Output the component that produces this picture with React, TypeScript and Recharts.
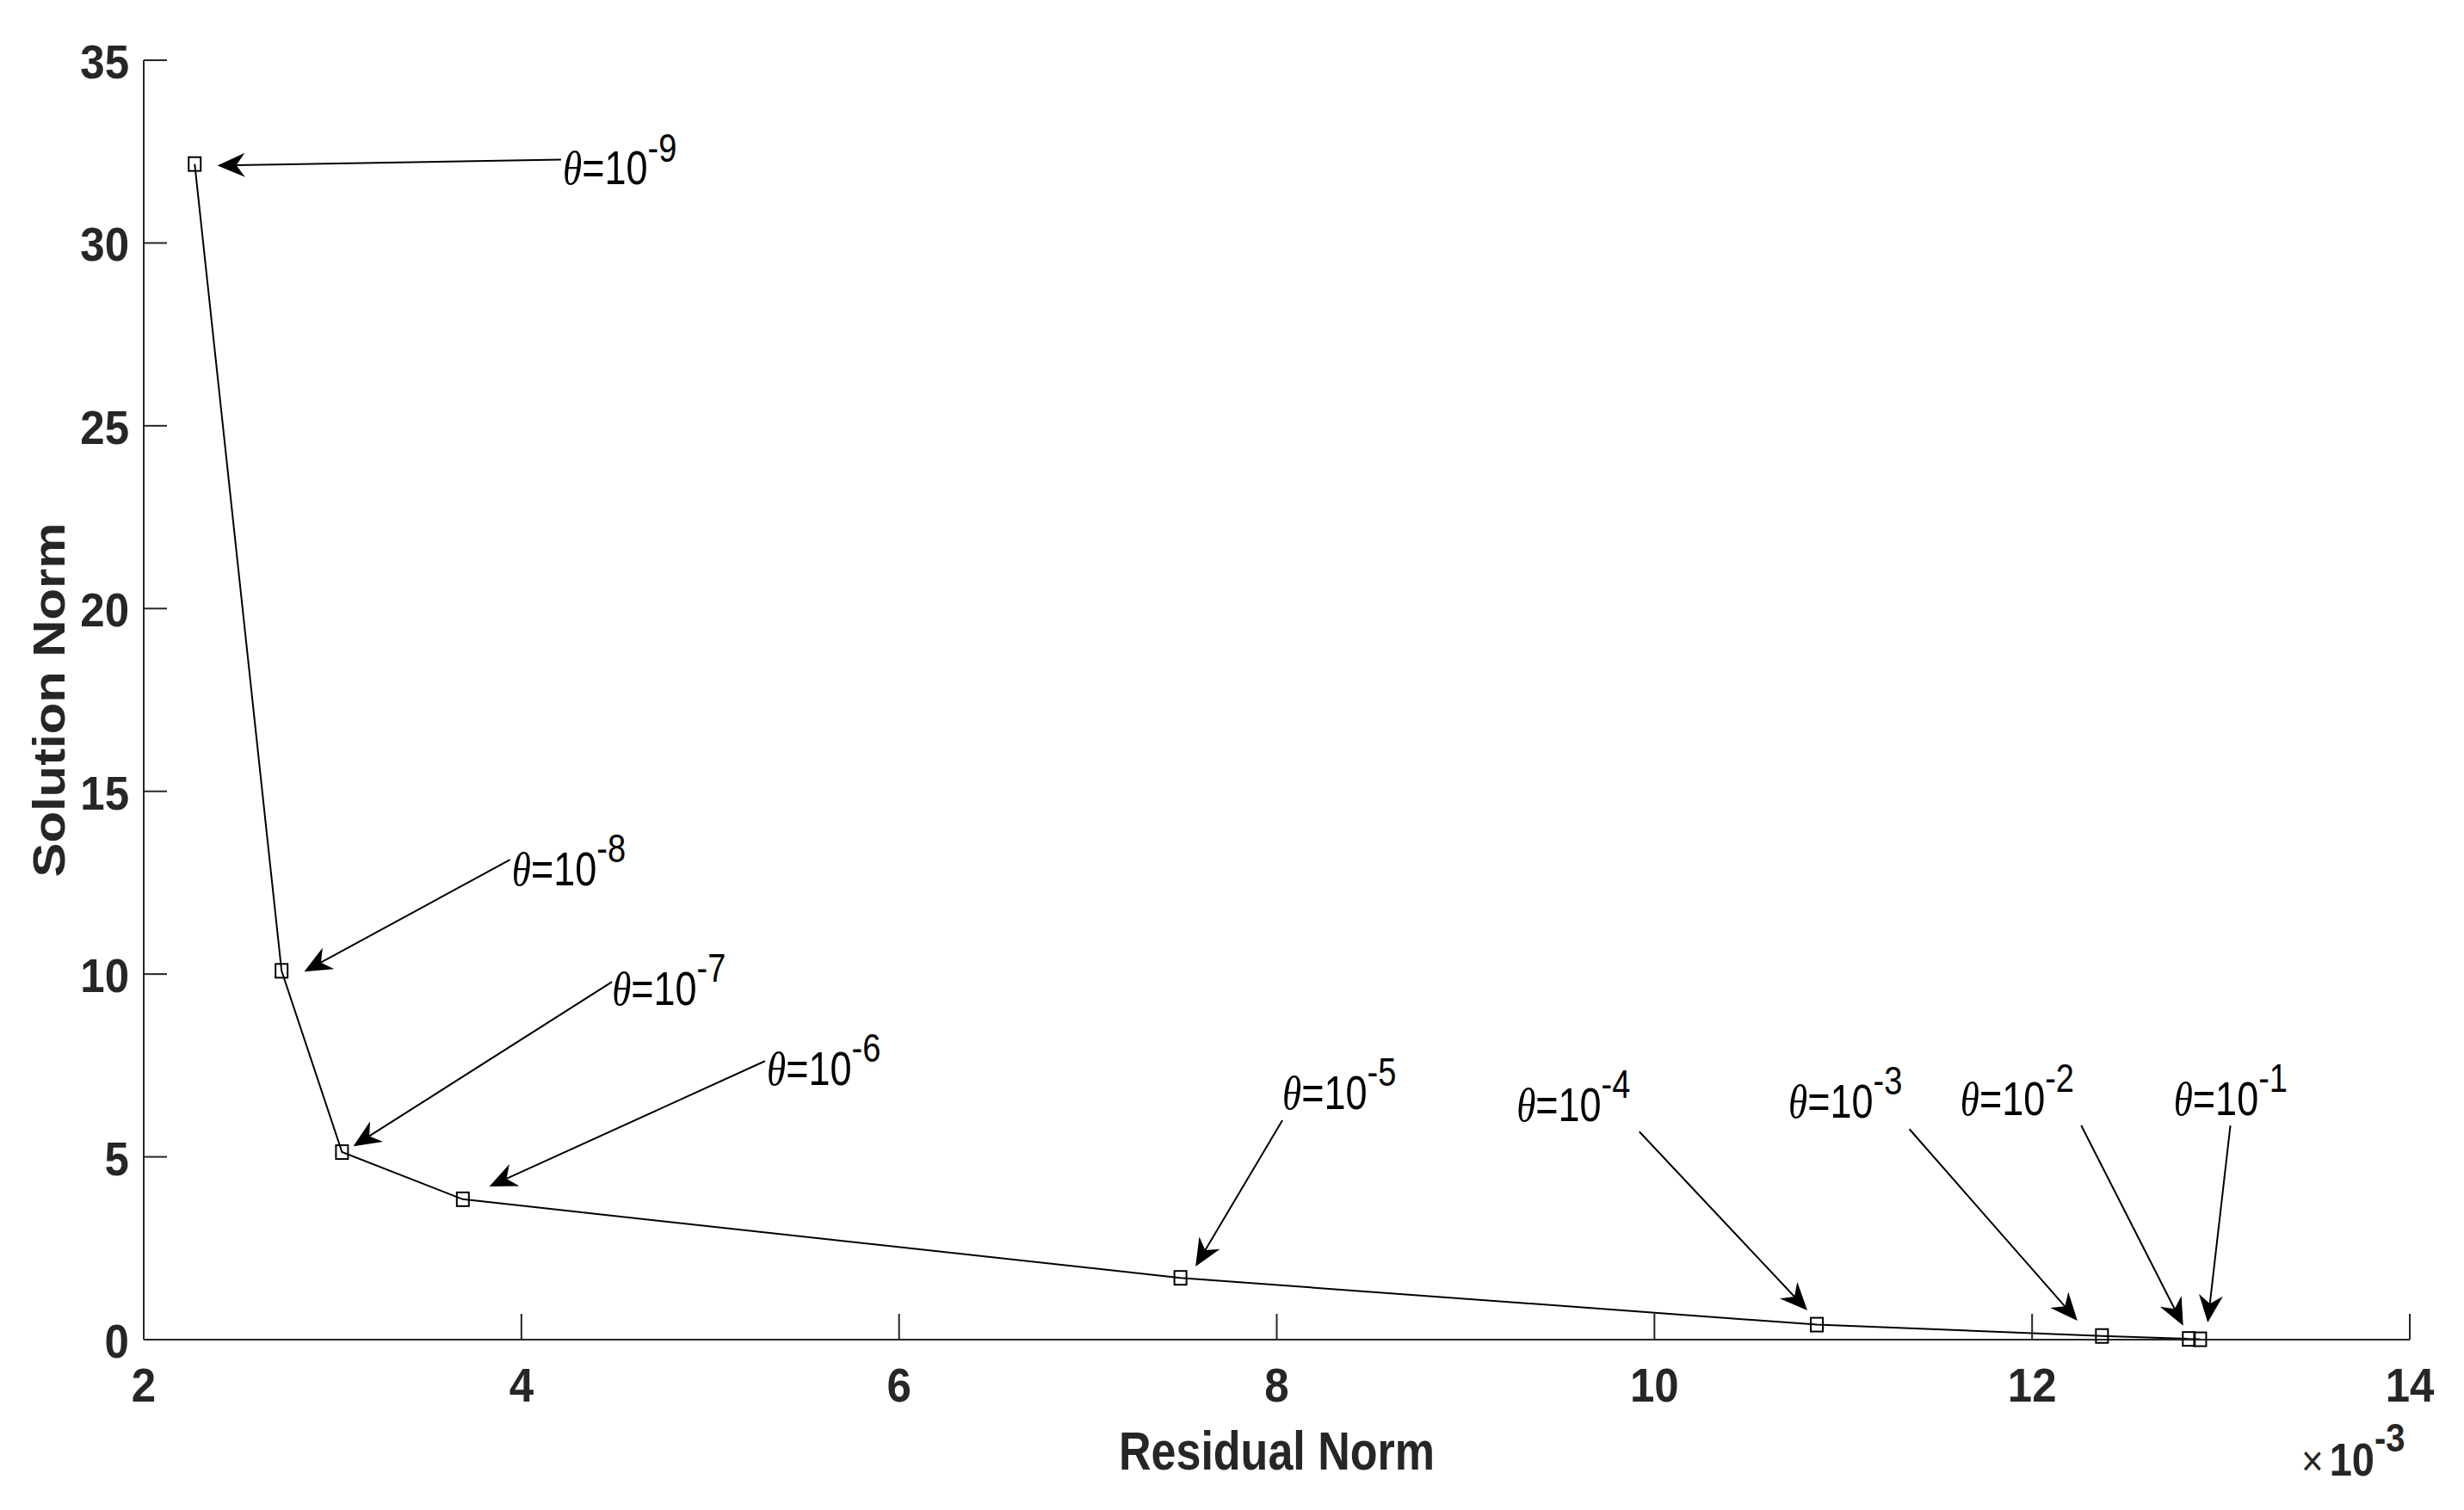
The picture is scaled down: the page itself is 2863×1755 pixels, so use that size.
import React from 'react';
import { LineChart, Line, XAxis, YAxis, ReferenceLine, ReferenceDot, Label } from 'recharts';

// L-curve: residual norm (x 1e-3) vs solution norm for each theta
const residualNorm = [2.27, 2.73, 3.05, 3.69, 7.49, 10.86, 12.37, 12.83, 12.89];
const solutionNorm = [32.16, 10.09, 5.13, 3.84, 1.69, 0.41, 0.1, 0.02, 0.01];
const thetaExponent = [-9, -8, -7, -6, -5, -4, -3, -2, -1];

const xTicks = [2, 4, 6, 8, 10, 12, 14];
const yTicks = [0, 5, 10, 15, 20, 25, 30, 35];

// annotation anchors, in data units
const labelX = [4.22, 3.95, 4.48, 5.3, 8.03, 9.27, 10.71, 11.62, 12.75];
const labelY = [31.6, 12.42, 9.15, 6.96, 6.31, 5.98, 6.07, 6.14, 6.14];
const tailX = [4.21, 3.94, 4.48, 5.29, 8.03, 9.92, 11.35, 12.26, 13.05];
const tailY = [32.28, 13.13, 9.79, 7.62, 6.0, 5.69, 5.76, 5.86, 5.86];
const tipX = [2.39, 2.85, 3.11, 3.83, 7.57, 10.81, 12.24, 12.8, 12.93];
const tipY = [32.12, 10.07, 5.29, 4.19, 2.0, 0.8, 0.52, 0.38, 0.47];

const points = residualNorm.map((x, i) => ({ x, y: solutionNorm[i] }));

const FONT = "'Liberation Sans', Arial, Helvetica, sans-serif";
const SERIF = "'Liberation Serif', 'DejaVu Serif', serif";
const INK = '#262626';
// the source figure is stretched vertically, so text is too
const S_TICK = 1.1;
const S_TEXT = 1.22;

const XTick = (props: any) => {
  const { x, y, payload } = props;
  return (
    <g>
      <line x1={x} y1={y} x2={x} y2={y - 30} stroke={INK} strokeWidth={2} />
      <text
        transform={`translate(${x},${y + 72}) scale(1,${S_TICK})`}
        textAnchor="middle"
        fontFamily={FONT}
        fontWeight="bold"
        fontSize={51}
        fill={INK}
      >
        {payload.value}
      </text>
    </g>
  );
};

const YTick = (props: any) => {
  const { x, y, payload } = props;
  return (
    <g>
      <line x1={x} y1={y} x2={x + 27} y2={y} stroke={INK} strokeWidth={2} />
      <text
        transform={`translate(${x - 17},${y + 21}) scale(1,${S_TICK})`}
        textAnchor="end"
        fontFamily={FONT}
        fontWeight="bold"
        fontSize={51}
        fill={INK}
      >
        {payload.value}
      </text>
    </g>
  );
};

const squareDot = (props: any) => {
  const { cx, cy, index } = props;
  if (cx == null || cy == null) return <g key={index} />;
  return (
    <rect key={index} x={cx - 7} y={cy - 8} width={14} height={16} fill="none" stroke="#000" strokeWidth={2} />
  );
};

const arrowShape = (props: any) => {
  const { x1, y1, x2, y2 } = props;
  const dx = x2 - x1;
  const dy = y2 - y1;
  const len = Math.hypot(dx, dy) || 1;
  const ux = dx / len;
  const uy = dy / len;
  const nx = -uy;
  const ny = ux;
  const L = 32;
  const W = 14;
  const bx = x2 - ux * L;
  const by = y2 - uy * L;
  const mx = x2 - ux * (L - 10);
  const my = y2 - uy * (L - 10);
  const head = `${x2},${y2} ${bx + nx * W},${by + ny * W} ${mx},${my} ${bx - nx * W},${by - ny * W}`;
  return (
    <g>
      <line x1={x1} y1={y1} x2={mx} y2={my} stroke="#000" strokeWidth={2} />
      <polygon points={head} fill="#000" />
    </g>
  );
};

const thetaLabel = (exp: number) => (props: any) => {
  const { cx, cy } = props;
  return (
    <text transform={`translate(${cx},${cy}) scale(1,${S_TEXT})`} fontFamily={FONT} fontSize={45} fill="#000">
      <tspan fontFamily={SERIF} fontStyle="italic">θ</tspan>
      <tspan>=10</tspan>
      <tspan fontSize={38} dy={-22}>{`${exp}`}</tspan>
    </text>
  );
};

const xTitle = (props: any) => {
  const vb = props.viewBox;
  const cx = vb.x + vb.width / 2;
  const right = vb.x + vb.width;
  return (
    <g>
      <text
        transform={`translate(${cx},${vb.y + 151}) scale(1,${S_TEXT})`}
        textAnchor="middle"
        fontFamily={FONT}
        fontWeight="bold"
        fontSize={52}
        fill={INK}
      >
        Residual Norm
      </text>
      <text transform={`translate(${right - 126},${vb.y + 158}) scale(1,1.15)`} fontFamily={FONT} fontSize={44} fill={INK}>
        <tspan>×</tspan>
        <tspan dx={7} fontWeight="bold" fontSize={47}>10</tspan>
        <tspan fontWeight="bold" fontSize={40} dy={-24}>-3</tspan>
      </text>
    </g>
  );
};

const yTitle = (props: any) => {
  const vb = props.viewBox;
  const cy = vb.y + vb.height / 2;
  return (
    <text
      transform={`translate(75,${cy}) scale(1,1.15) rotate(-90)`}
      textAnchor="middle"
      fontFamily={FONT}
      fontWeight="bold"
      fontSize={52}
      fill={INK}
    >
      Solution Norm
    </text>
  );
};

export default function App() {
  return (
    <div style={{ position: 'absolute', left: 0, top: 0, width: 2863, height: 1755, background: '#fff' }}>
      <LineChart width={2863} height={1755} data={points} margin={{ top: 70, right: 63, left: 17, bottom: 98 }}>
        <XAxis
          type="number"
          dataKey="x"
          domain={[2, 14]}
          ticks={xTicks}
          interval={0}
          tick={<XTick />}
          tickLine={false}
          tickSize={0}
          tickMargin={0}
          height={100}
          axisLine={{ stroke: INK, strokeWidth: 2 }}
        >
          <Label content={xTitle} />
        </XAxis>
        <YAxis
          type="number"
          domain={[0, 35]}
          ticks={yTicks}
          interval={0}
          tick={<YTick />}
          tickLine={false}
          tickSize={0}
          tickMargin={0}
          width={150}
          axisLine={{ stroke: INK, strokeWidth: 2 }}
        >
          <Label content={yTitle} />
        </YAxis>
        <Line
          type="linear"
          dataKey="y"
          stroke="#000"
          strokeWidth={2}
          dot={squareDot}
          activeDot={false}
          isAnimationActive={false}
        />
        {thetaExponent.map((e, i) => (
          <ReferenceLine
            key={`arrow-${i}`}
            segment={[
              { x: tailX[i], y: tailY[i] },
              { x: tipX[i], y: tipY[i] },
            ]}
            shape={arrowShape}
            ifOverflow="visible"
          />
        ))}
        {thetaExponent.map((e, i) => (
          <ReferenceDot
            key={`label-${i}`}
            x={labelX[i]}
            y={labelY[i]}
            r={1}
            shape={thetaLabel(e)}
            ifOverflow="visible"
          />
        ))}
      </LineChart>
    </div>
  );
}
